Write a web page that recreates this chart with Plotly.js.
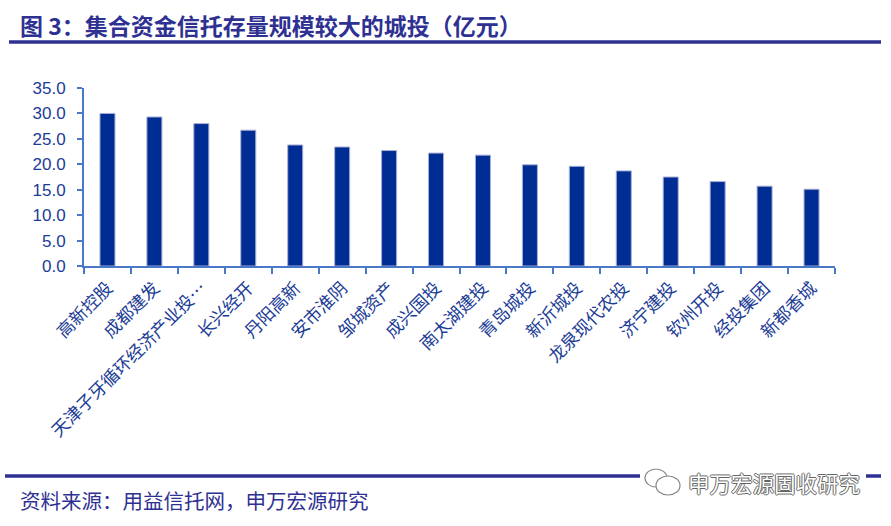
<!DOCTYPE html>
<html>
<head>
<meta charset="utf-8">
<script src="https://cdn.plot.ly/plotly-3.0.1.min.js"></script>
<style>html,body{margin:0;padding:0;background:#fff;}#chart{width:891px;height:526px;}</style>
</head>
<body>
<div id="chart"></div>
<script>
const categories = ["高新控股","成都建发","天津子牙循环经济产业投…","长兴经开","丹阳高新","安市淮阴","邹城资产","成兴国投","南太湖建投","青岛城投","新沂城投","龙泉现代农投","济宁建投","钦州开投","经投集团","新都香城"];
const values = [30.0, 29.3, 28.0, 26.7, 23.8, 23.4, 22.7, 22.2, 21.8, 19.9, 19.6, 18.7, 17.5, 16.6, 15.7, 15.1];
const yTickVals = [0, 5, 10, 15, 20, 25, 30, 35];
const yTickText = ["0.0","5.0","10.0","15.0","20.0","25.0","30.0","35.0"];
const titleText = "图 3：集合资金信托存量规模较大的城投（亿元）";
const sourceText = "资料来源：用益信托网，申万宏源研究";
const watermarkText = "申万宏源固收研究";

// pixel helpers for overlay placement
const L = 84, R = 835, T = 88, B = 266;
const px = x => (x - L) / (R - L);
const py = y => (B - y) / (B - T);

const cjk = '"Noto Sans CJK SC", "Noto Sans", sans-serif';
const navy = '#2E3192';
const textBlue = '#1B3C96';
const axisBlue = '#4A78C8';
const outline = '1px 0 0 #666, -1px 0 0 #666, 0 1px 0 #666, 0 -1px 0 #666';

const trace = {
  type: 'bar',
  x: categories,
  y: values,
  marker: { color: '#002D93', line: { color: '#A9AED6', width: 1 } },
  hoverinfo: 'x+y'
};

const layout = {
  width: 891, height: 526,
  margin: { l: L, r: 891 - R, t: T, b: 526 - B, pad: 0 },
  paper_bgcolor: '#ffffff', plot_bgcolor: '#ffffff',
  showlegend: false,
  bargap: 0.68,
  xaxis: {
    type: 'category',
    tickangle: -45,
    tickfont: { family: cjk, size: 17.5, color: textBlue },
    ticklabelstandoff: 3,
    showline: true, linecolor: axisBlue, linewidth: 2,
    ticks: 'outside', tickson: 'boundaries', ticklen: 6, tickwidth: 2, tickcolor: axisBlue,
    showgrid: false, zeroline: false, automargin: false
  },
  yaxis: {
    range: [0, 35], tickvals: yTickVals, ticktext: yTickText,
    tickfont: { family: '"Liberation Sans", Arial, sans-serif', size: 17, color: textBlue },
    ticklabelstandoff: 8,
    showline: true, linecolor: axisBlue, linewidth: 2,
    ticks: 'outside', ticklen: 5, tickwidth: 2, tickcolor: axisBlue,
    showgrid: false, zeroline: false, automargin: false
  },
  title: {
    text: '<b>' + titleText + '</b>',
    font: { family: cjk, size: 23, color: navy },
    xref: 'container', yref: 'container',
    x: 20 / 891, xanchor: 'left', y: 1 - 27 / 526, yanchor: 'middle'
  },
  shapes: [
    { type: 'line', xref: 'paper', yref: 'paper', x0: px(9), x1: px(881), y0: py(42), y1: py(42), line: { color: navy, width: 3.5 } },
    { type: 'line', xref: 'paper', yref: 'paper', x0: px(5), x1: px(881), y0: py(476), y1: py(476), line: { color: navy, width: 3.5 } },
    { type: 'rect', xref: 'paper', yref: 'paper', x0: px(640), x1: px(866), y0: py(470), y1: py(494), fillcolor: '#ffffff', line: { width: 0 } },
    { type: 'circle', xref: 'paper', yref: 'paper', x0: px(645), x1: px(667), y0: py(469), y1: py(487), fillcolor: '#ffffff', line: { color: '#888', width: 1.2 } },
    { type: 'circle', xref: 'paper', yref: 'paper', x0: px(656), x1: px(680), y0: py(476), y1: py(495), fillcolor: '#ffffff', line: { color: '#888', width: 1.2 } }
  ],
  annotations: [
    { xref: 'paper', yref: 'paper', x: px(18), y: py(500), xanchor: 'left', yanchor: 'middle', showarrow: false,
      text: sourceText, font: { family: cjk, size: 20.5, color: navy } },
    { xref: 'paper', yref: 'paper', x: px(862), y: py(482), xanchor: 'right', yanchor: 'middle', showarrow: false,
      text: watermarkText, font: { family: cjk, size: 21.5, color: '#ffffff', shadow: outline } }
  ]
};

Plotly.newPlot('chart', [trace], layout, { staticPlot: true, displayModeBar: false });
</script>
</body>
</html>
